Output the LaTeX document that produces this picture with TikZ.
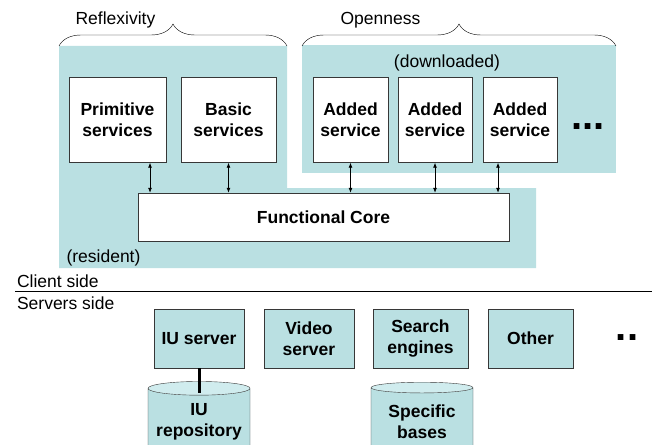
\documentclass[tikz,border=0pt]{standalone}
\usepackage{fontspec}
\setmainfont{Liberation Sans}
\usetikzlibrary{arrows.meta,decorations.pathreplacing,shapes.geometric}
\definecolor{regbg}{RGB}{186,224,226}
\definecolor{cyltop}{RGB}{208,236,238}
\definecolor{edgegray}{RGB}{55,55,55}
\begin{document}
\begin{tikzpicture}[x=1pt,y=-1pt,
	font=\fontsize{17.5}{21}\selectfont,
	svc/.style={draw=edgegray,fill=white,align=center,inner sep=0pt,font=\fontsize{17.5}{21}\selectfont\bfseries},
	srv/.style={svc,fill=regbg},
	base/.style={cylinder,shape border rotate=90,aspect=0.16,draw=edgegray,cylinder uses custom fill,cylinder body fill=regbg,cylinder end fill=cyltop,align=center,inner sep=0pt,minimum width=102,minimum height=74,font=\fontsize{17.5}{21}\selectfont\bfseries},
	dots/.style={anchor=base,font=\fontsize{40}{40}\selectfont\bfseries},
	link/.style={{Latex[length=5pt,width=4pt]}-{Latex[length=5pt,width=4pt]},line width=0.8pt}]
		\useasboundingbox (0,0) rectangle (652,444);

		% client regions
		\fill[regbg] (59,46) -- (287,46) -- (287,188) -- (536,188) -- (536,268) -- (59,268) -- cycle;
		\fill[regbg] (302,45) rectangle (616,173);
		\draw[decorate,decoration={brace,amplitude=22pt}] (59,46) -- (287,46);
		\draw[decorate,decoration={brace,amplitude=22pt}] (302,46) -- (616,46);
		\draw (15,291) -- (652,291);

		\draw
		node[anchor=base west] at (72,25) (refl) {Reflexivity}
		node[anchor=base west] at (337,25) (open) {Openness}
		node[anchor=base] at (447,67) (down) {(downloaded)}
		node[anchor=base west] at (63,262) (resi) {(resident)}
		node[anchor=base west] at (13.5,287) (client) {Client side}
		node[anchor=base west] at (13.5,309) (servers) {Servers side}

		node[svc, minimum width=97, minimum height=85] at (117.5,120) (prim) {Primitive\\services}
		node[svc, minimum width=95, minimum height=85] at (228.5,120) (basic) {Basic\\services}
		node[svc, minimum width=75, minimum height=85] at (350.5,120) (addA) {Added\\service}
		node[svc, minimum width=74, minimum height=85] at (435,120) (addB) {Added\\service}
		node[svc, minimum width=74, minimum height=85] at (520,120) (addC) {Added\\service}
		node[dots] at (588,129) (more) {...}
		node[svc, minimum width=371, minimum height=48] at (323.5,217) (core) {Functional Core}

		node[srv, minimum width=90, minimum height=59] at (199,338.5) (iusrv) {IU server}
		node[srv, minimum width=90, minimum height=59] at (309,338.5) (video) {Video\\server}
		node[srv, minimum width=95, minimum height=59] at (420.5,338.5) (search) {Search\\engines}
		node[srv, minimum width=85, minimum height=59] at (530.5,338.5) (other) {Other}
		node[dots] at (627,340) (moresrv) {..}

		node[base] at (199,422) (iurep) {IU\\repository}
		node[base] at (422,422) (spec) {Specific\\bases}
		;

		\draw[link] ([xshift=32.5pt]prim.south) -- ([xshift=32.5pt]prim.south |- core.north);
		\draw[link] (basic.south) -- (basic.south |- core.north);
		\draw[link] (addA.south) -- (addA.south |- core.north);
		\draw[link] (addB.south) -- (addB.south |- core.north);
		\draw[link] ([xshift=-22pt]addC.south) -- ([xshift=-22pt]addC.south |- core.north);
		\draw[line width=3pt] (iusrv.south) -- ([yshift=-12pt]iurep.top);
	\end{tikzpicture}
\end{document}
